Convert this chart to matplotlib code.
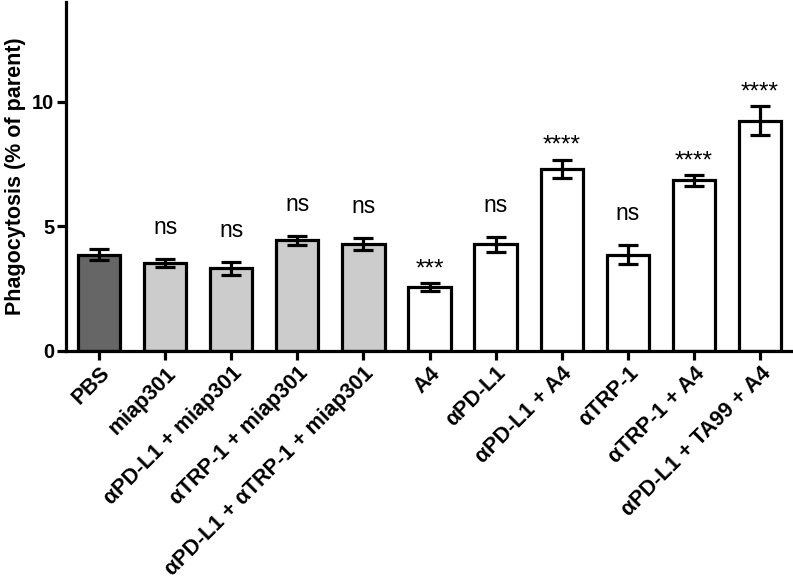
import matplotlib.pyplot as plt
import numpy as np

# ── Data ─────────────────────────────────────────────────────────────────────
groups = ["PBS", "miap301", "αPD-L1 + miap301", "αTRP-1 + miap301",
          "αPD-L1 + αTRP-1 + miap301", "A4", "αPD-L1", "αPD-L1 + A4",
          "αTRP-1", "αTRP-1 + A4", "αPD-L1 + TA99 + A4"]
means = [3.86, 3.53, 3.32, 4.44, 4.31, 2.56, 4.28, 7.31, 3.86, 6.84, 9.24]
sem = [0.22, 0.17, 0.27, 0.17, 0.24, 0.17, 0.30, 0.37, 0.39, 0.21, 0.57]
signif = ["", "ns", "ns", "ns", "ns", "***", "ns", "****", "ns", "****", "****"]
fills = ["#666666"] + ["#cccccc"] * 4 + ["#ffffff"] * 6

# ── Plot ─────────────────────────────────────────────────────────────────────
plt.rcParams["font.family"] = ["Liberation Sans", "DejaVu Sans"]

fig = plt.figure(figsize=(7.93, 5.82), dpi=100)
ax = fig.add_axes([66 / 793, 1 - 351 / 582, 1 - 66 / 793, 349 / 582])

x = np.arange(len(groups))
LW = 2.3
ax.bar(x, means, width=0.64, color=fills, edgecolor="black",
       linewidth=LW, zorder=2)
ax.errorbar(x, means, yerr=sem, fmt="none", ecolor="black",
            elinewidth=LW, capsize=7.5, capthick=LW, zorder=3)

for xi, m, s, lab in zip(x, means, sem, signif):
    if not lab:
        continue
    if lab == "ns":
        ax.annotate(lab, (xi, m + s), xytext=(0, 18), textcoords="offset points",
                    ha="center", va="baseline", fontsize=16.5)
    else:
        ax.annotate(lab, (xi, m + s), xytext=(0, 5.5), textcoords="offset points",
                    ha="center", va="baseline", fontsize=17.5)

ax.set_xlim(-0.5, len(groups) - 0.5)
ax.set_ylim(0, 14)
ax.set_yticks([0, 5, 10])
ax.set_xticks(x)
ax.set_xticklabels(groups, rotation=45, ha="right", va="top",
                   rotation_mode="anchor", fontsize=15.5, fontweight="bold")
for t in ax.get_yticklabels():
    t.set_fontsize(14.5)
    t.set_fontweight("bold")
ax.set_ylabel("Phagocytosis (% of parent)", fontsize=15.5, fontweight="bold",
              labelpad=4)

for spine in ["top", "right"]:
    ax.spines[spine].set_visible(False)
for spine in ["left", "bottom"]:
    ax.spines[spine].set_linewidth(LW)
ax.tick_params(width=LW, length=6.5, pad=2)

fig.savefig("out.png", dpi=100)
